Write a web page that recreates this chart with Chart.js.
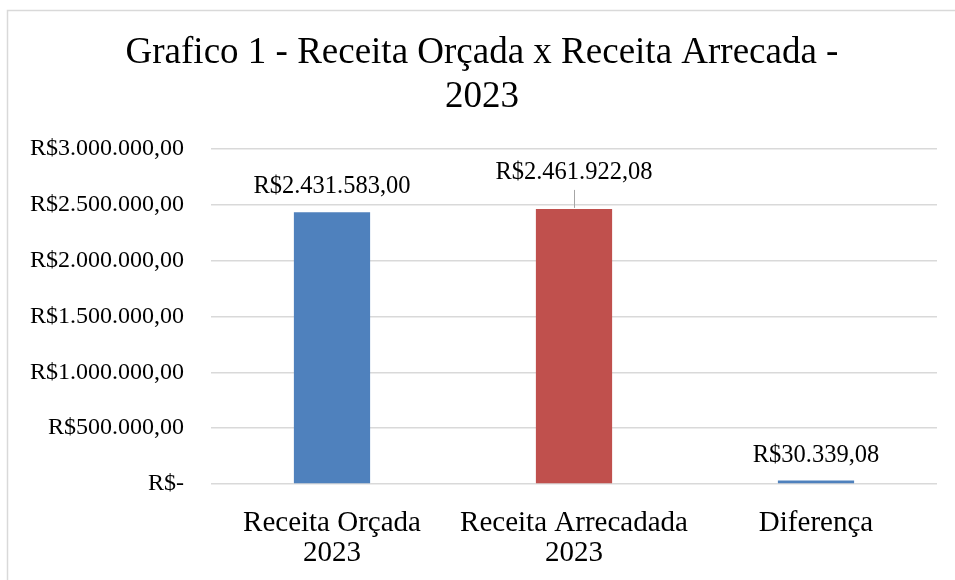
<!DOCTYPE html>
<html>
<head>
<meta charset="utf-8">
<script src="https://cdn.jsdelivr.net/npm/chart.js@4"></script>
<style>
  body { margin: 0; background: #fff; }
  #wrap { width: 955px; height: 580px; }
</style>
</head>
<body>
<div id="wrap"><canvas id="chart"></canvas></div>
<script>
var categories = [['Receita Orçada', '2023'], ['Receita Arrecadada', '2023'], 'Diferença'];
var values = [2431583.00, 2461922.08, 30339.08];
var valueLabels = ['R$2.431.583,00', 'R$2.461.922,08', 'R$30.339,08'];
var barColors = ['#4F81BD', '#C0504D', '#4F81BD'];
var yTicks = [0, 500000, 1000000, 1500000, 2000000, 2500000, 3000000];
var yTickLabels = ['R$-', 'R$500.000,00', 'R$1.000.000,00', 'R$1.500.000,00', 'R$2.000.000,00', 'R$2.500.000,00', 'R$3.000.000,00'];

var serif = 'Liberation Serif';

// white background + light frame like the spreadsheet chart box
var frame = {
  id: 'frame',
  beforeDraw: function (chart) {
    var c = chart.ctx;
    c.save();
    c.fillStyle = '#fff';
    c.fillRect(0, 0, chart.width, chart.height);
    c.strokeStyle = '#d9d9d9';
    c.lineWidth = 1.5;
    c.strokeRect(7.5, 10.5, chart.width + 10, chart.height + 10);
    c.restore();
  }
};

// value labels above each bar (second one sits higher with a leader line)
var labelOffsets = [26, 36, 25];
var valueText = {
  id: 'valueText',
  afterDatasetsDraw: function (chart) {
    var c = chart.ctx;
    var meta = chart.getDatasetMeta(0);
    c.save();
    c.font = '24.5px "' + serif + '"';
    c.fillStyle = '#000';
    c.textAlign = 'center';
    c.textBaseline = 'middle';
    meta.data.forEach(function (bar, i) {
      var y = bar.y - labelOffsets[i];
      c.fillText(valueLabels[i], bar.x, y);
      if (i === 1) {
        c.strokeStyle = '#a6a6a6';
        c.lineWidth = 1;
        c.beginPath();
        c.moveTo(bar.x + 0.5, y + 17);
        c.lineTo(bar.x + 0.5, bar.y - 1);
        c.stroke();
      }
    });
    c.restore();
  }
};

var ctx = document.getElementById('chart').getContext('2d');
var myChart = new Chart(ctx, {
  type: 'bar',
  data: {
    labels: categories,
    datasets: [{
      data: values,
      backgroundColor: barColors,
      borderWidth: 0,
      categoryPercentage: 1,
      barPercentage: 0.315
    }]
  },
  options: {
    responsive: true,
    maintainAspectRatio: false,
    animation: false,
    layout: { padding: { top: 10, right: 18, left: 27, bottom: 0 } },
    plugins: {
      legend: { display: false },
      tooltip: { enabled: false },
      title: {
        display: true,
        text: ['Grafico 1 - Receita Orçada x Receita Arrecada -', '2023'],
        color: '#000',
        font: { family: serif, size: 37, weight: 'normal', lineHeight: 1.2 },
        padding: { top: 21, bottom: 29 }
      }
    },
    scales: {
      x: {
        grid: { display: false, drawTicks: false },
        border: { display: false },
        ticks: {
          color: '#000',
          font: { family: serif, size: 29, lineHeight: 1.05 },
          padding: 24,
          maxRotation: 0
        },
        afterFit: function (scale) { scale.height = 96; }
      },
      y: {
        min: 0,
        max: 3000000,
        afterBuildTicks: function (scale) {
          scale.ticks = yTicks.map(function (v) { return { value: v }; });
        },
        grid: { color: '#d9d9d9', lineWidth: 1.5, drawTicks: false },
        border: { display: false },
        ticks: {
          color: '#000',
          font: { family: serif, size: 24 },
          padding: 27,
          callback: function (value, index) { return yTickLabels[index]; }
        },
        afterFit: function (scale) { scale.width = 184; }
      }
    }
  },
  plugins: [frame, valueText]
});
</script>
</body>
</html>
